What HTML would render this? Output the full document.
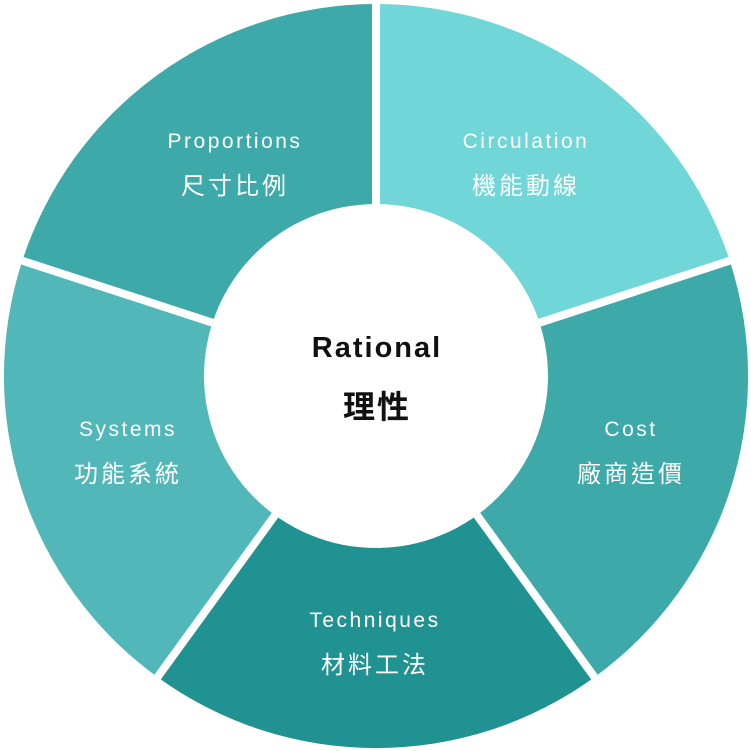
<!DOCTYPE html>
<html><head><meta charset="utf-8"><style>
html,body{margin:0;padding:0;background:#fff;}
svg{display:block}
.en{font-family:"Liberation Sans","Noto Sans CJK TC",sans-serif;font-size:21px;fill:#fff;letter-spacing:2.5px}
.zh{font-family:"Liberation Sans","Noto Sans CJK TC",sans-serif;font-size:24px;fill:#fff;letter-spacing:3px}
</style></head><body>
<svg width="751" height="751" viewBox="0 0 751 751" xmlns="http://www.w3.org/2000/svg">
<g>
<path d="M376,376 L376,4 A372,372 0 0 1 729.8,261 Z" fill="#70d6d7"/>
<path d="M376,376 L729.8,261 A372,372 0 0 1 594.7,677 Z" fill="#3da9a9"/>
<path d="M376,376 L594.7,677 A372,372 0 0 1 157.3,677 Z" fill="#209292"/>
<path d="M376,376 L157.3,677 A372,372 0 0 1 22.2,261 Z" fill="#52b7b8"/>
<path d="M376,376 L22.2,261 A372,372 0 0 1 376,4 Z" fill="#3da9a9"/>
</g>
<g stroke="#fff" stroke-width="8">
<line x1="376" y1="376" x2="376" y2="0"/>
<line x1="376" y1="376" x2="735" y2="259"/>
<line x1="376" y1="376" x2="598" y2="682"/>
<line x1="376" y1="376" x2="154" y2="682"/>
<line x1="376" y1="376" x2="17" y2="259"/>
</g>
<circle cx="376" cy="376" r="172" fill="#fff"/>
<g text-anchor="middle">
<text x="235" y="148" class="en">Proportions</text>
<text x="235" y="194" class="zh">尺寸比例</text>
<text x="526" y="148" class="en">Circulation</text>
<text x="526" y="194" class="zh">機能動線</text>
<text x="631" y="436" class="en">Cost</text>
<text x="631" y="482" class="zh">廠商造價</text>
<text x="375" y="627" class="en">Techniques</text>
<text x="375" y="673" class="zh">材料工法</text>
<text x="128" y="436" class="en">Systems</text>
<text x="128" y="482" class="zh">功能系統</text>
<text x="377" y="357" font-family="Liberation Sans,sans-serif" font-size="29" font-weight="bold" fill="#111" letter-spacing="2">Rational</text>
<text x="377" y="418" font-family="Liberation Sans,'Noto Sans CJK TC',sans-serif" font-size="32" font-weight="bold" fill="#111" letter-spacing="2">理性</text>
</g>
</svg>
</body></html>
